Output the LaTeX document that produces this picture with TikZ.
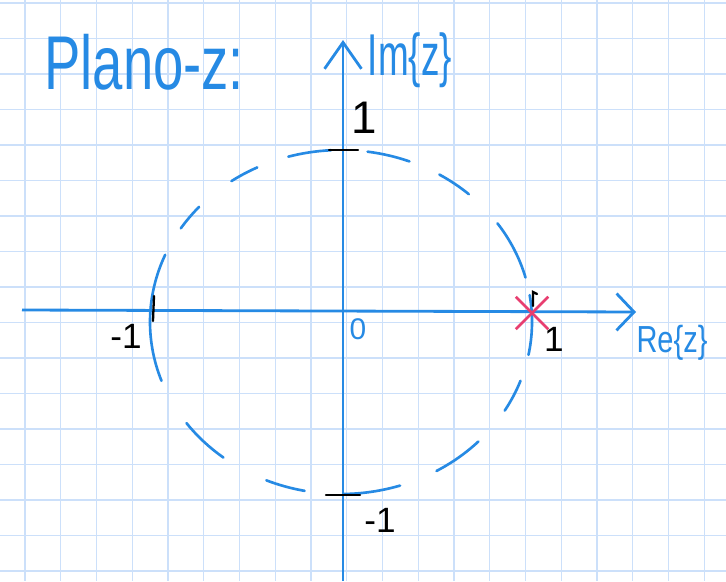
\documentclass[tikz,border=0pt]{standalone}
\usepackage{fontspec}
\setmainfont{Liberation Sans}
\usetikzlibrary{arrows.meta,shapes.misc}

\definecolor{penblue}{RGB}{38,138,228}
\definecolor{gridblue}{RGB}{204,224,250}
\definecolor{polered}{RGB}{232,62,112}

\begin{document}
\begin{tikzpicture}[x=0.02cm,y=-0.02cm]
\tikzset{
  gridline/.style={gridblue,line width=0.8pt},
  axis/.style={penblue,line width=1.6pt,-{Straight Barb[length=10pt,width=21pt]}},
  unitcirc/.style={penblue,line width=1.5pt,line cap=round},
  tickmark/.style={black,line width=1.3pt,line cap=round},
  numlabel/.style={black,inner sep=0pt,font=\fontsize{20}{20}\selectfont},
  penlabel/.style={penblue,inner sep=0pt},
  pole/.style={cross out,draw=polered,line width=1.5pt,minimum size=17pt,inner sep=0pt}
}
\useasboundingbox (0,0) rectangle (726,581);
\fill[white] (0,0) rectangle (726,581);
% graph paper
\foreach \gx in {25,60.75,...,726} \draw[gridline] (\gx,0) -- (\gx,581);
\foreach \gy in {3,38.5,...,581} \draw[gridline] (0,\gy) -- (726,\gy);

% axes
\coordinate (O) at (343,312);
\coordinate (xW) at (22,310);
\coordinate (xE) at (636,312);
\coordinate (yS) at (343,581);
\coordinate (yN) at (343,40);
\draw[axis] (xW) -- (xE);
\draw[axis,-{Straight Barb[length=15pt,width=21pt]}] (yS) -- (yN);

% unit circle, dashed by hand
\begin{scope}[shift={(341,322)},yscale=-1]
\foreach \a/\b in {157/200,138/147,116/125,93/106,69/82,48/59,15/35,-11/9,
                   -31/-20,-60/-44,-89/-72,247/259,216/232}
  \draw[unitcirc] (\a:191 and 172) arc[start angle=\a,end angle=\b,x radius=191,y radius=172];
\end{scope}

% ticks
\draw[tickmark] (329,150) -- (358,150);
\draw[tickmark] (326,495) -- (360,495);
\draw[tickmark] (154,296) -- (153,321);
\draw[tickmark] (533,306) -- (533,292) -- (537,294);

% pole at z=1
\node[pole] (z1) at (532,313) {};

% labels
\node[penlabel,anchor=west,font=\fontsize{31}{31}\selectfont] (title) at (44,62) {\scalebox{1}[1.4]{Plano-z:}};
\node[penlabel,font=\fontsize{21}{21}\selectfont] (lblIm) at (410,60) {\scalebox{1}[1.6]{Im\{z\}}};
\node[penlabel,font=\fontsize{16.5}{16.5}\selectfont] (lblRe) at (672,343) {\scalebox{1}[1.3]{Re\{z\}}};
\node[penlabel,font=\fontsize{17}{17}\selectfont] (lblZero) at (358,329) {0};
\node[numlabel,font=\fontsize{26}{26}\selectfont] (lblImOne) at (364,118) {1};
\node[numlabel] (lblImMinusOne) at (380,520) {-1};
\node[numlabel] (lblReOne) at (554,339) {1};
\node[numlabel] (lblReMinusOne) at (126,336) {-1};
\end{tikzpicture}
\end{document}
